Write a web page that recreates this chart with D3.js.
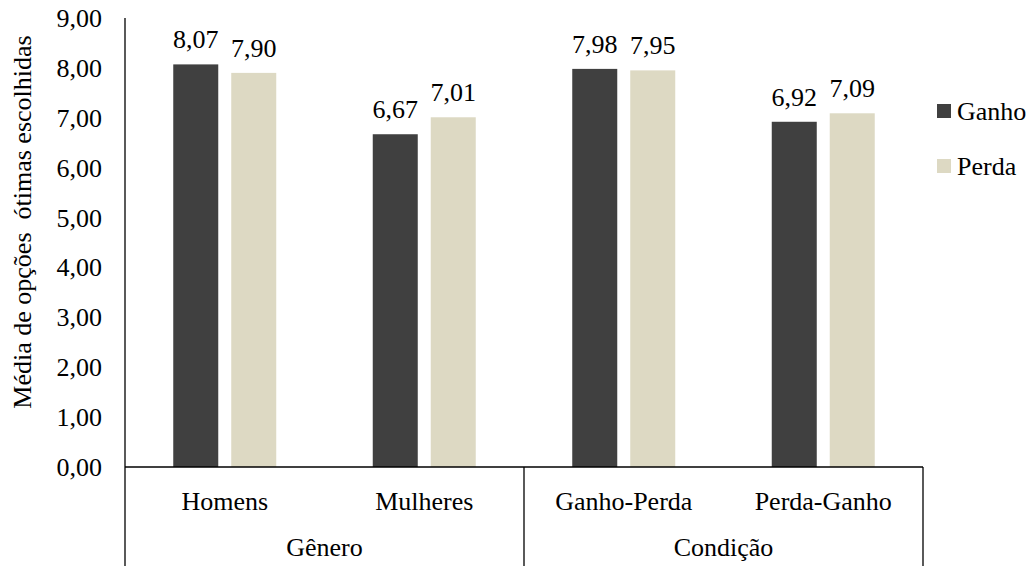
<!DOCTYPE html>
<html>
<head>
<meta charset="utf-8">
<script src="https://cdn.jsdelivr.net/npm/d3@7/dist/d3.min.js"></script>
<style>
  html, body { margin: 0; padding: 0; background: #fff; }
  svg { display: block; }
</style>
</head>
<body>
<svg id="chart" width="1031" height="566"></svg>
<script>
// Categories, grouped in two blocks
const categories = ["Homens", "Mulheres", "Ganho-Perda", "Perda-Ganho"];
const groups = [
  { name: "Gênero", members: ["Homens", "Mulheres"] },
  { name: "Condição", members: ["Ganho-Perda", "Perda-Ganho"] }
];
const seriesNames = ["Ganho", "Perda"];
const ganhoValues = [8.07, 6.67, 7.98, 6.92];
const perdaValues = [7.90, 7.01, 7.95, 7.09];
const yTicks = [0, 1, 2, 3, 4, 5, 6, 7, 8, 9];
const yTitle = "Média de opções\u00A0 ótimas escolhidas";
const colors = { Ganho: "#404040", Perda: "#DDD9C3" };

const FONT = "'Liberation Serif', 'DejaVu Serif', serif";
const fmt = v => v.toFixed(2).replace(".", ",");

const svg = d3.select("#chart")
  .attr("font-family", FONT)
  .attr("font-size", 26)
  .attr("fill", "#000");
const plot = { left: 125, right: 923, top: 18, bottom: 467 };

const y = d3.scaleLinear().domain([0, 9]).range([plot.bottom, plot.top]);
const x0 = d3.scaleBand().domain(categories).range([plot.left, plot.right]).padding(0);
const x1 = d3.scaleBand().domain(seriesNames).range([0, x0.bandwidth()])
  .paddingInner(0.224).paddingOuter(0.832);

const values = { Ganho: ganhoValues, Perda: perdaValues };
const rows = categories.map((c, i) => ({
  cat: c,
  items: seriesNames.map(s => ({ series: s, value: values[s][i] }))
}));

// Bars
const g = svg.selectAll("g.cat").data(rows).enter().append("g")
  .attr("class", "cat")
  .attr("transform", d => `translate(${x0(d.cat)},0)`);

g.selectAll("rect").data(d => d.items).enter().append("rect")
  .attr("x", d => x1(d.series))
  .attr("width", x1.bandwidth())
  .attr("y", d => y(d.value))
  .attr("height", d => y(0) - y(d.value))
  .attr("fill", d => colors[d.series]);

// Value labels
g.selectAll("text.val").data(d => d.items).enter().append("text")
  .attr("class", "val")
  .attr("x", d => x1(d.series) + x1.bandwidth() / 2)
  .attr("y", d => y(d.value) - 16)
  .attr("text-anchor", "middle")
  .text(d => fmt(d.value));

// Y tick labels
svg.append("g").selectAll("text").data(yTicks).enter().append("text")
  .attr("x", 102)
  .attr("y", d => y(d) + 9)
  .attr("text-anchor", "end")
  .text(d => fmt(d));

// Y axis title
svg.append("text")
  .attr("transform", `translate(31,${(32 + 412) / 2}) rotate(-90)`)
  .attr("text-anchor", "middle")
  .text(yTitle);

// Axis lines
const lineStyle = sel => sel.attr("stroke", "#000").attr("stroke-width", 1.3).attr("fill", "none");
svg.append("line").attr("x1", plot.left).attr("x2", plot.left)
  .attr("y1", plot.top).attr("y2", 566).call(lineStyle);
svg.append("line").attr("x1", plot.left).attr("x2", plot.right)
  .attr("y1", y(0)).attr("y2", y(0)).call(lineStyle);

// Group separators and labels
groups.forEach(grp => {
  const first = grp.members[0];
  const last = grp.members[grp.members.length - 1];
  const gx0 = x0(first);
  const gx1 = x0(last) + x0.bandwidth();
  svg.append("line").attr("x1", gx1).attr("x2", gx1)
    .attr("y1", y(0)).attr("y2", 566).call(lineStyle);
  svg.append("text")
    .attr("x", (gx0 + gx1) / 2)
    .attr("y", 556)
    .attr("text-anchor", "middle")
    .text(grp.name);
});

// Category labels
svg.append("g").selectAll("text").data(categories).enter().append("text")
  .attr("x", d => x0(d) + x0.bandwidth() / 2)
  .attr("y", 509.5)
  .attr("text-anchor", "middle")
  .text(d => d);

// Legend
const legend = svg.append("g").selectAll("g").data(seriesNames).enter().append("g")
  .attr("transform", (d, i) => `translate(937,${104 + i * 55})`);
legend.append("rect").attr("width", 14).attr("height", 14).attr("fill", d => colors[d]);
legend.append("text").attr("x", 20).attr("y", 15.5).text(d => d);
</script>
</body>
</html>
